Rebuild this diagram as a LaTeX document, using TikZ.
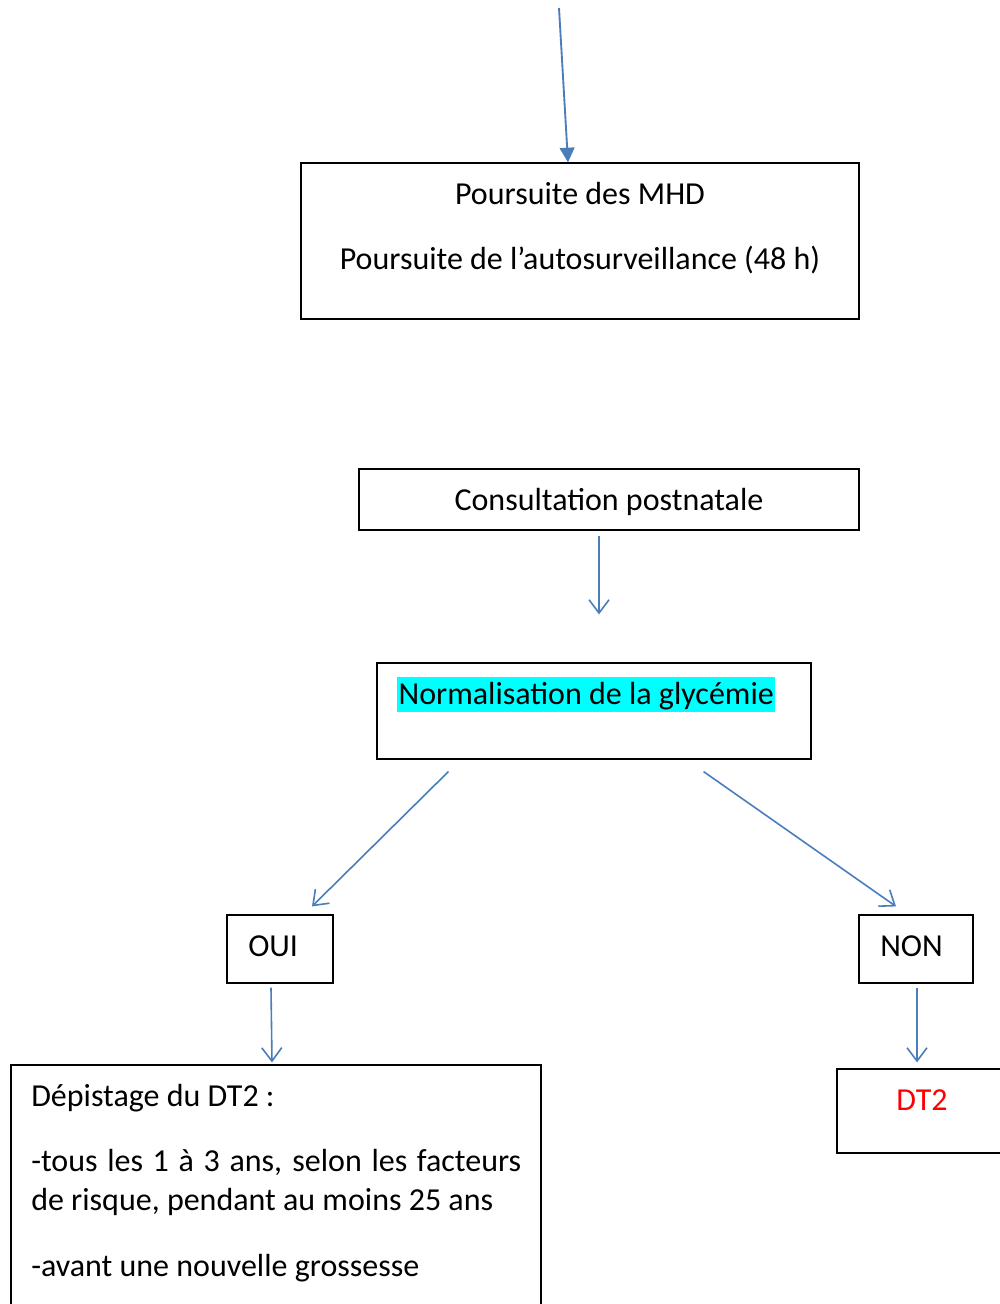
\documentclass[tikz,border=0pt]{standalone}
\usepackage{fontspec}
\setmainfont{Carlito}
\usetikzlibrary{arrows.meta,calc}
\definecolor{arr}{HTML}{4A7EBB}
\definecolor{hl}{HTML}{00FFFF}
\begin{document}
\begin{tikzpicture}[x=0.75pt,y=-0.75pt,
  box/.style={draw=black, line width=0.9pt, rectangle, inner sep=0pt},
  link/.style={draw=arr, line width=1.2pt, -{Straight Barb[length=10pt,width=15pt,line width=1.2pt]}},
  flink/.style={draw=arr, line width=1.4pt, -{Triangle[length=11pt,width=11pt]}},
  txt/.style={font=\fontsize{24}{29}\selectfont, inner sep=0pt}]
\useasboundingbox (0,0) rectangle (1000,1304);
\clip (0,0) rectangle (1000,1304);

% boxes
\node[box, minimum width={558*0.75pt}, minimum height={156*0.75pt}] (b1) at (580,241) {};
\node[box, minimum width={500*0.75pt}, minimum height={61*0.75pt}] (b2) at (609,499.5) {};
\node[box, minimum width={434*0.75pt}, minimum height={96*0.75pt}] (b3) at (594,711) {};
\node[box, minimum width={106*0.75pt}, minimum height={68*0.75pt}] (oui) at (280,949) {};
\node[box, minimum width={114*0.75pt}, minimum height={68*0.75pt}] (non) at (916,949) {};
\node[box, minimum width={530*0.75pt}, minimum height={265*0.75pt}] (dep) at (276,1197.5) {};
\node[box, minimum width={173*0.75pt}, minimum height={84*0.75pt}] (dt2) at (923.5,1111) {};

% texts
\node[txt, anchor=base] (t1) at (580,204) {Poursuite des MHD};
\node[txt, anchor=base] (t2) at (580,269) {Poursuite de l’autosurveillance (48 h)};
\node[txt, anchor=base] (t3) at (609,510) {Consultation postnatale};
\node[txt, anchor=base west, fill=hl, text height=20pt, text depth=6pt, inner xsep=1pt] (t4) at (397,704) {Normalisation de la glycémie};
\node[txt, anchor=base west] (t5) at (248,956) {OUI};
\node[txt, anchor=base west] (t6) at (880,956) {NON};
\node[txt, anchor=base, text=red] (t7) at (922,1110) {DT2};
\node[txt, anchor=base west] (t8) at (31,1106) {Dépistage du DT2 :};
\node[txt, anchor=base west] (t9) at (31,1171) {\makebox[367.5pt][s]{-tous les 1 à 3 ans, selon les facteurs}};
\node[txt, anchor=base west] (t10) at (31,1210) {de risque, pendant au moins 25 ans};
\node[txt, anchor=base west] (t11) at (31,1276) {-avant une nouvelle grossesse};

% connectors
\coordinate (top) at (559,8);
\draw[flink] (top) -- ($(b1.north)+(-12,0)$);
\draw[link] ($(b2.south)+(-10,5)$) -- ($(b3.north)+(5,-48)$);
\draw[link] ($(b3.south west)+(72,12)$) -- ($(oui.north)+(32,-8)$);
\draw[link] ($(b3.south east)+(-108,12)$) -- ($(non.north)+(-20,-8)$);
\draw[link] ($(oui.south)+(-9,4)$) -- ($(dep.north)+(-4,-2)$);
\draw[link] ($(non.south)+(1,4)$) -- ($(dt2.north)+(-6.5,-6)$);
\end{tikzpicture}
\end{document}
